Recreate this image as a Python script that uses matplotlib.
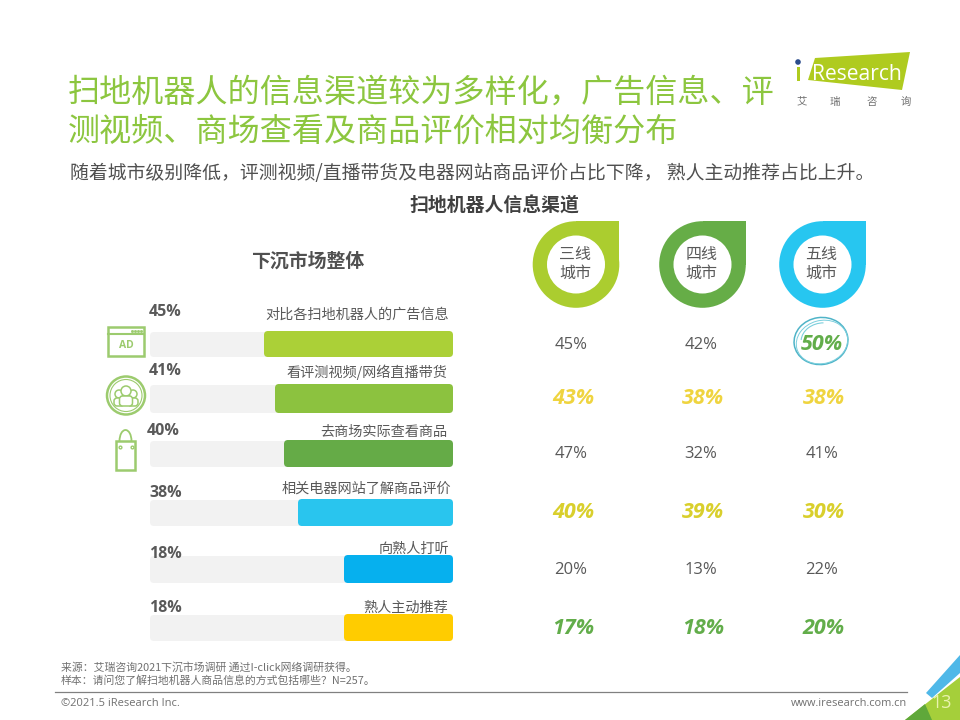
import matplotlib
matplotlib.use("Agg")
import matplotlib.pyplot as plt
from matplotlib.patches import FancyBboxPatch, Circle, Rectangle, Polygon, Ellipse, Arc

plt.rcParams['font.family'] = ['Noto Sans CJK SC', 'DejaVu Sans']

# ---- data ----
title_lines = ["扫地机器人的信息渠道较为多样化，广告信息、评", "测视频、商场查看及商品评价相对均衡分布"]
subtitle = "随着城市级别降低，评测视频/直播带货及电器网站商品评价占比下降， 熟人主动推荐占比上升。"
chart_title = "扫地机器人信息渠道"
left_title = "下沉市场整体"
channels = ["对比各扫地机器人的广告信息", "看评测视频/网络直播带货", "去商场实际查看商品",
            "相关电器网站了解商品评价", "向熟人打听", "熟人主动推荐"]
overall = [45, 41, 40, 38, 18, 18]
# drawn length of each bar in the picture (the bars are not proportional to their labels)
drawn_length = [189, 178, 169, 155, 109, 109]
tier3 = [45, 43, 47, 40, 20, 17]
tier4 = [42, 38, 32, 39, 13, 18]
tier5 = [50, 38, 41, 30, 22, 20]
cities = ["三线\n城市", "四线\n城市", "五线\n城市"]
source_lines = ["来源：艾瑞咨询2021下沉市场调研 通过I-click网络调研获得。",
                "样本：请问您了解扫地机器人商品信息的方式包括哪些？N=257。"]

# ---- styles ----
bar_colors = ["#ABD037", "#8CC23F", "#65AB47", "#29C5EE", "#06B0EE", "#FFCC00"]
city_colors = ["#ABCD2F", "#66AD47", "#27C6F0"]
row_styles = ["plain", "#EFD43F", "plain", "#D9CF2C", "plain", "#62AD4A"]
track_y = [(332, 357), (385, 413), (441, 467), (500, 526), (556, 583), (615, 641)]
pct_pos = [(149, 312), (149, 371), (147, 431), (149, 493), (149, 554), (149, 608)]
lab_pos = [(449, 314.5), (447, 372.5), (447, 431.5), (451, 488.5), (449, 548.5), (448, 607.5)]
row_y = [345, 399, 454, 513, 570, 629]
col_x = [571, 701, 822]
drop_x = [576, 702.5, 822.5]
TEXT = "#595959"
ICON = "#9CCB6E"
LATIN = ["Open Sans", "DejaVu Sans"]

fig = plt.figure(figsize=(9.6, 7.2), dpi=100, facecolor="white")
ax = fig.add_axes([0, 0, 1, 1])
ax.set_xlim(0, 960)
ax.set_ylim(720, 0)
ax.axis("off")

# headings
for txt, y in zip(title_lines, [93, 132]):
    ax.text(68, y, txt, fontsize=23.1, color="#8CC63F", va="center", ha="left")
ax.text(70, 173, subtitle, fontsize=13.55, color="#505050", va="center", ha="left")
ax.text(494, 206, chart_title, fontsize=13.6, color="#404040", weight="bold", va="center", ha="center")
ax.text(308, 261, left_title, fontsize=13.6, color="#505050", weight="bold", va="center", ha="center")

# left bars
TRACK_L, TRACK_R = 150, 453
for i, (name, v, ln) in enumerate(zip(channels, overall, drawn_length)):
    y0, y1 = track_y[i]
    ax.add_patch(FancyBboxPatch((TRACK_L + 3, y0 + 3), TRACK_R - TRACK_L - 6, y1 - y0 - 6,
                                boxstyle="round,pad=3,rounding_size=4", fc="#F2F2F2", ec="none"))
    ax.add_patch(FancyBboxPatch((TRACK_R - ln + 3, y0 + 2), ln - 6, y1 - y0 - 5,
                                boxstyle="round,pad=3,rounding_size=4", fc=bar_colors[i], ec="none"))
    ax.text(pct_pos[i][0], pct_pos[i][1], f"{v}%", fontsize=11.5, color=TEXT, weight="bold",
            family=LATIN, va="center", ha="left")
    ax.text(lab_pos[i][0], lab_pos[i][1], name, fontsize=10.2, color="#595959", va="center", ha="right")

# icons
ax.add_patch(Rectangle((107.5, 327), 36.5, 29, fc="none", ec=ICON, lw=1.8))
ax.plot([108, 144], [334, 334], color=ICON, lw=1.5)
ax.plot([132, 135, 138, 141], [331] * 4, ls="none", marker="s", ms=1, color=ICON)
ax.text(126, 345, "AD", fontsize=7.5, color=ICON, weight="bold", ha="center", va="center", family=LATIN)
ax.add_patch(Circle((126, 395.5), 19, fc="none", ec=ICON, lw=1.8))
ax.add_patch(Circle((126, 395.5), 16, fc="none", ec=ICON, lw=0.8))
for dx, dy, r in [(-7, -2, 4), (7, -2, 4), (0, -5, 5)]:
    ax.add_patch(Circle((126 + dx, 396 + dy), r, fc="white", ec=ICON, lw=1.1))
for dx, w, h in [(-7, 10, 8), (7, 10, 8), (0, 13, 10)]:
    ax.add_patch(FancyBboxPatch((126 + dx - w / 2, 406 - h), w, h,
                                boxstyle="round,pad=0,rounding_size=3", fc="white", ec=ICON, lw=1.1))
ax.add_patch(Rectangle((116, 441), 19, 29, fc="none", ec=ICON, lw=1.8))
ax.add_patch(Arc((125.5, 441), 12, 22, theta1=180, theta2=360, ec=ICON, lw=1.3))
ax.plot([119.5, 131.5], [447, 447], ls="none", marker="o", ms=2, mfc="none", mec=ICON)

# city drops
for cx, col, lab in zip(drop_x, city_colors, cities):
    ax.add_patch(Circle((cx, 264.5), 43.3, fc=col, ec="none"))
    ax.add_patch(Rectangle((cx, 221.2), 43.3, 43.3, fc=col, ec="none"))
    ax.add_patch(Circle((cx, 264.5), 29, fc="white", ec="none"))
    ax.text(cx - 1, 264, lab, fontsize=11.5, color="#595959", ha="center", va="center", linespacing=1.1)

# right value table
for i, y in enumerate(row_y):
    for x, vals in zip(col_x, [tier3, tier4, tier5]):
        s = f"{vals[i]}%"
        if row_styles[i] == "plain" and vals[i] != 50:
            ax.text(x, y, s, fontsize=12, color=TEXT, ha="center", va="center", family=LATIN)
        else:
            c = "#62AD4A" if vals[i] == 50 else row_styles[i]
            ax.text(x + (0 if vals[i] == 50 else 2), y, s, fontsize=15.5, color=c, ha="center", va="center",
                    weight="bold", style="italic", family=LATIN)

# hand-drawn ring around the highlight
ax.add_patch(Ellipse((821, 341), 54, 47, angle=-8, fc="none", ec="#4FB4C8", lw=1.1))
ax.add_patch(Ellipse((822, 342), 52, 43, angle=-15, fc="none", ec="#7CCFDD", lw=0.7))
ax.add_patch(Arc((822, 340), 42, 34, angle=-10, theta1=190, theta2=285, ec="#7CCFDD", lw=0.8))

# footer
for txt, y in zip(source_lines, [667, 681]):
    ax.text(61, y, txt, fontsize=7.8, color="#707070", ha="left", va="center")
ax.plot([55, 907], [692, 692], color="#808080", lw=0.9)
ax.text(61, 703, "©2021.5 iResearch Inc.", fontsize=8, color="#707070", ha="left", va="center", family=LATIN)
ax.text(907, 703, "www.iresearch.com.cn", fontsize=7.95, color="#707070", ha="right", va="center", family=LATIN)

# corner decoration
ax.add_patch(Polygon([(905, 720), (960, 677), (960, 720)], fc="#A5CF3A", ec="none"))
ax.add_patch(Polygon([(905, 720), (925, 704), (932, 720)], fc="#5FA83A", ec="none"))
ax.add_patch(Polygon([(926, 693), (960, 655), (960, 673), (932, 698)], fc="#4FB8E8", ec="none"))
ax.text(942, 703, "13", fontsize=13, color="#EAF2B0", ha="center", va="center", family=LATIN)

# logo
ax.add_patch(Polygon([(815, 58), (910, 52), (902, 90), (808, 80)], fc="#AFCB1F", ec="none"))
ax.add_patch(Circle((798, 62), 2.8, fc="#2B4C8C", ec="none"))
ax.add_patch(Rectangle((796.5, 67), 3.5, 14, fc="#AFCB1F", ec="none"))
ax.text(812, 74, "Research", fontsize=15.2, color="white", ha="left", va="center", family=LATIN)
for x, ch in zip([802, 835, 872, 906], "艾瑞咨询"):
    ax.text(x, 101.5, ch, fontsize=7.5, color="#707070", ha="center", va="center")

fig.savefig("out.png", dpi=100, facecolor="white")
